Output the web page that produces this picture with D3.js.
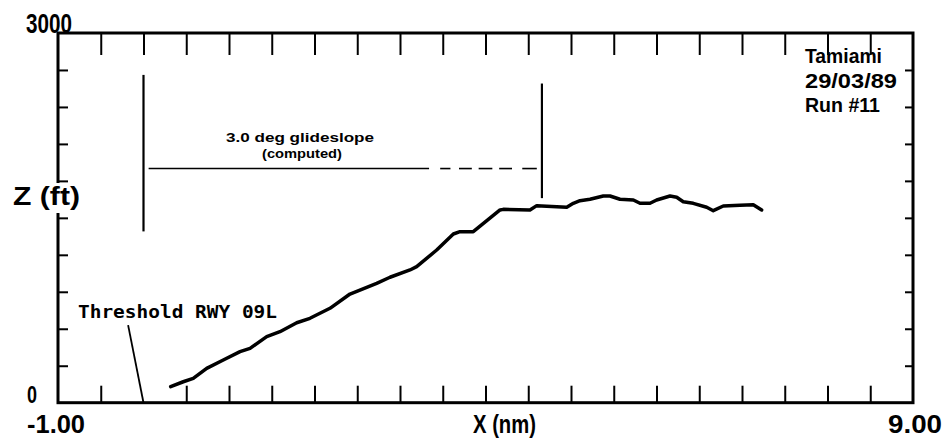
<!DOCTYPE html>
<html>
<head>
<meta charset="utf-8">
<script src="https://cdn.jsdelivr.net/npm/d3@7"></script>
<style>
  body { margin: 0; background: #fff; }
  svg { display: block; }
</style>
</head>
<body>
<div id="chart"></div>
<script>
// approach track, X in nm from threshold, Z in ft
const trackX = [0.318, 0.465, 0.582, 0.739, 0.933, 1.129, 1.246, 1.441, 1.596, 1.792,
  1.947, 2.181, 2.415, 2.727, 2.883, 3.117, 3.195, 3.429, 3.624, 3.702,
  3.857, 4.170, 4.208, 4.520, 4.599, 4.950, 5.027, 5.105, 5.222, 5.378,
  5.456, 5.573, 5.729, 5.807, 5.924, 6.002, 6.158, 6.236, 6.313, 6.430,
  6.587, 6.664, 6.781, 6.977, 7.132, 7.230];
const trackZ = [130, 170, 198, 279, 347, 414, 441, 536, 576, 649,
  685, 766, 882, 969, 1018, 1077, 1104, 1239, 1369, 1388,
  1388, 1564, 1569, 1564, 1599, 1586, 1618, 1639, 1651, 1677,
  1677, 1651, 1645, 1618, 1618, 1645, 1677, 1667, 1631, 1618,
  1586, 1558, 1596, 1602, 1607, 1564];

const xTicks = [-0.5, 0, 0.5, 1, 1.5, 2, 2.5, 3, 3.5, 4, 4.5, 5, 5.5, 6, 6.5, 7, 7.5, 8, 8.5];
const zTicks = [300, 600, 900, 1200, 1500, 1800, 2100, 2400, 2700];
const xEndLabels = ["-1.00", "9.00"];
const zEndLabels = ["0", "3000"];
const runInfo = ["Tamiami", "29/03/89", "Run #11"];

const thresholdX = 0;
const glideslopeZ = 1900;
const glideslopePieces = [[0.06, 3.34], [3.47, 3.59], [3.69, 3.84], [3.92, 4.08], [4.16, 4.31], [4.43, 4.60]];
const glideslopeBounds = [
  {x: 0, z0: 2660, z1: 1390},
  {x: 4.66, z0: 2590, z1: 1660}
];

var width = 945;
var height = 438;
var margin = { top: 33, right: 32, bottom: 35.3, left: 58 };

var svg = d3.select('#chart')
  .append('svg')
  .attr('width', width)
  .attr('height', height)
  .attr('viewBox', [0, 0, width, height]);

const x = d3.scaleLinear()
  .domain([-1, 9])
  .range([margin.left, width - margin.right]);

const y = d3.scaleLinear()
  .domain([0, 3000])
  .range([height - margin.bottom, margin.top]);

const bigFont = "'Liberation Sans', Arial, sans-serif";
const monoFont = "'DejaVu Sans Mono', 'Liberation Mono', monospace";

function noDomain(g) {
  g.select(".domain").remove();
  g.selectAll(".tick line").attr("stroke", "#000").attr("stroke-width", 2);
}

// ticks on all four sides, pointing in
svg.append("g")
  .attr("transform", `translate(0,${y(0)})`)
  .call(d3.axisBottom(x).tickValues(xTicks.filter(d => d !== thresholdX)).tickSize(-17).tickFormat(""))
  .call(noDomain);

svg.append("g")
  .attr("transform", `translate(0,${y(3000)})`)
  .call(d3.axisTop(x).tickValues(xTicks).tickSize(-22).tickFormat(""))
  .call(noDomain);

svg.append("g")
  .attr("transform", `translate(${x(-1)},0)`)
  .call(d3.axisLeft(y).tickValues(zTicks).tickSize(-10).tickFormat(""))
  .call(noDomain);

svg.append("g")
  .attr("transform", `translate(${x(9)},0)`)
  .call(d3.axisRight(y).tickValues(zTicks).tickSize(-8).tickFormat(""))
  .call(noDomain);

// frame
svg.append("rect")
  .attr("x", x(-1))
  .attr("y", y(3000))
  .attr("width", x(9) - x(-1))
  .attr("height", y(0) - y(3000))
  .attr("fill", "none")
  .attr("stroke", "#000")
  .attr("stroke-width", 3);

// glideslope annotation
svg.append("g")
  .selectAll("line")
  .data(glideslopeBounds)
  .join("line")
    .attr("x1", d => x(d.x))
    .attr("x2", d => x(d.x))
    .attr("y1", d => y(d.z0))
    .attr("y2", d => y(d.z1))
    .attr("stroke", "#000")
    .attr("stroke-width", 2.2);

svg.append("g")
  .selectAll("line")
  .data(glideslopePieces)
  .join("line")
    .attr("x1", d => x(d[0]))
    .attr("x2", d => x(d[1]))
    .attr("y1", y(glideslopeZ))
    .attr("y2", y(glideslopeZ))
    .attr("stroke", "#000")
    .attr("stroke-width", 1.6);

svg.append("text")
  .attr("x", 226)
  .attr("y", 142)
  .attr("font-family", bigFont)
  .attr("font-weight", "bold")
  .attr("font-size", 13)
  .attr("textLength", 148)
  .attr("lengthAdjust", "spacingAndGlyphs")
  .text("3.0 deg glideslope");

svg.append("text")
  .attr("x", 262)
  .attr("y", 158)
  .attr("font-family", bigFont)
  .attr("font-weight", "bold")
  .attr("font-size", 13)
  .attr("textLength", 80)
  .attr("lengthAdjust", "spacingAndGlyphs")
  .text("(computed)");

// threshold label and leader
svg.append("line")
  .attr("x1", x(-0.18))
  .attr("y1", y(630))
  .attr("x2", x(thresholdX))
  .attr("y2", y(0))
  .attr("stroke", "#000")
  .attr("stroke-width", 1.8);

svg.append("text")
  .attr("x", 78)
  .attr("y", 318)
  .attr("font-family", monoFont)
  .attr("font-weight", "bold")
  .attr("font-size", 17)
  .attr("textLength", 199)
  .attr("lengthAdjust", "spacingAndGlyphs")
  .text("Threshold RWY 09L");

// the track
const line = d3.line()
  .x(d => x(d[0]))
  .y(d => y(d[1]));

svg.append("path")
  .datum(d3.zip(trackX, trackZ))
  .attr("fill", "none")
  .attr("stroke", "#000")
  .attr("stroke-width", 3.5)
  .attr("stroke-linejoin", "round")
  .attr("stroke-linecap", "round")
  .attr("d", line);

// axis labels, blocky plotter style
function bigText(str, x0, base, len, size) {
  svg.append("text")
    .attr("x", x0)
    .attr("y", base)
    .attr("font-family", bigFont)
    .attr("font-weight", "bold")
    .attr("font-size", size || 25)
    .attr("textLength", len)
    .attr("lengthAdjust", "spacingAndGlyphs")
    .text(str);
}

// z label sits over the left axis
svg.append("rect")
  .attr("x", 10)
  .attr("y", 183)
  .attr("width", 74)
  .attr("height", 30)
  .attr("fill", "#fff");
bigText("Z (ft)", 13, 205, 67);

bigText(zEndLabels[1], 26, 33, 46, 27);
bigText(zEndLabels[0], 27, 403, 10, 24);
bigText(xEndLabels[0], 27, 433, 58);
bigText(xEndLabels[1], 888, 433, 54);
bigText("X (nm)", 473, 433, 63);

const infoLen = [77, 92, 75];
runInfo.forEach((s, i) => bigText(s, 805, 63 + i * 24.5, infoLen[i], 21));

svg.node();
</script>
</body>
</html>
